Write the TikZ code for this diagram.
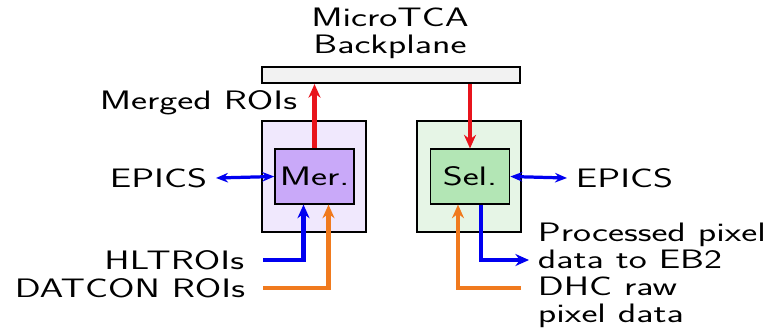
\documentclass[tikz,border=0pt]{standalone}
\usepackage{tikz}
\usetikzlibrary{arrows.meta, positioning, calc}
\definecolor{cred}{HTML}{E8141C}
\definecolor{cblue}{HTML}{0000F0}
\definecolor{corange}{HTML}{F07A1E}
\definecolor{cgrey}{HTML}{F2F2F2}
\definecolor{cmerbg}{HTML}{F0E8FD}
\definecolor{cmer}{HTML}{C9A9F9}
\definecolor{cselbg}{HTML}{E6F5E6}
\definecolor{csel}{HTML}{B3E6B5}
\tikzset{
  every picture/.style={font=\sffamily\fontsize{19}{19}\selectfont},
  txt/.style={xscale=1.43, inner sep=1.5mm},
  outerbox/.style={draw, line width=1.5pt, fill=#1, minimum width=26mm, minimum height=27.75mm},
  innerbox/.style={draw, line width=0.8pt, fill=#1, xscale=1.43, minimum width=13.8mm, minimum height=13.75mm, inner sep=0pt},
  flow/.style={line width=3.2pt, draw=#1, -{Stealth[length=3.4mm, width=3mm]}},
  ctrl/.style={line width=2.3pt, draw=cblue, {Stealth[length=3mm, width=2.4mm]}-{Stealth[length=3mm, width=2.4mm]}},
}

\begin{document}
\begin{tikzpicture}[x=0.25mm, y=-0.25mm]
  \useasboundingbox (0,0) rectangle (772,328);
  % backplane and the two boards
  \node[txt, align=center, inner sep=0pt] (title) at (390,33) {MicroTCA\\Backplane};
  \node[draw, line width=1.5pt, fill=cgrey, minimum width=64.5mm, minimum height=4mm, inner sep=0pt] (bp) at (391,75) {};
  \node[outerbox=cmerbg] (merbox) at (314,176.5) {};
  \node[innerbox=cmer] (mer) at (314.5,176.5) {Mer.};
  \node[outerbox=cselbg] (selbox) at (469,176.5) {};
  \node[innerbox=csel] (sel) at (470,176.5) {Sel.};
  % labels
  \node[txt, anchor=east] (merged) at (306,103) {Merged ROIs};
  \node[txt, anchor=east] (epicsl) at (216,178) {EPICS};
  \node[txt, anchor=west] (epicsr) at (567,178) {EPICS};
  \node[txt, anchor=east] (hlt) at (253,260) {HLTROIs};
  \node[txt, anchor=east] (datcon) at (254,288) {DATCON ROIs};
  \node[txt, anchor=west, align=left] (proc) at (529,246) {Processed pixel\\data to EB2};
  \node[txt, anchor=west, align=left] (dhc) at (529,302) {DHC raw\\pixel data};
  % data paths
  \draw[flow=cred] (mer.north) -- (mer.north |- bp.south);
  \draw[flow=cred] (sel.north |- bp.south) -- (sel.north);
  \draw[ctrl] (epicsl.east) -- (mer.west);
  \draw[ctrl] (sel.east) -- (epicsr.west);
  \draw[flow=cblue] ($(hlt.east)+(10,0)$) -| ($(mer.south)+(-11,0)$);
  \draw[flow=corange] ($(datcon.east)+(9,0)$) -| ($(mer.south)+(14,0)$);
  \draw[flow=cblue] ($(sel.south)+(11,0)$) |- ($(proc.west)+(0,14)$);
  \draw[flow=corange] ($(dhc.west)+(-8,-14)$) -| ($(sel.south)+(-12,0)$);
\end{tikzpicture}
\end{document}
